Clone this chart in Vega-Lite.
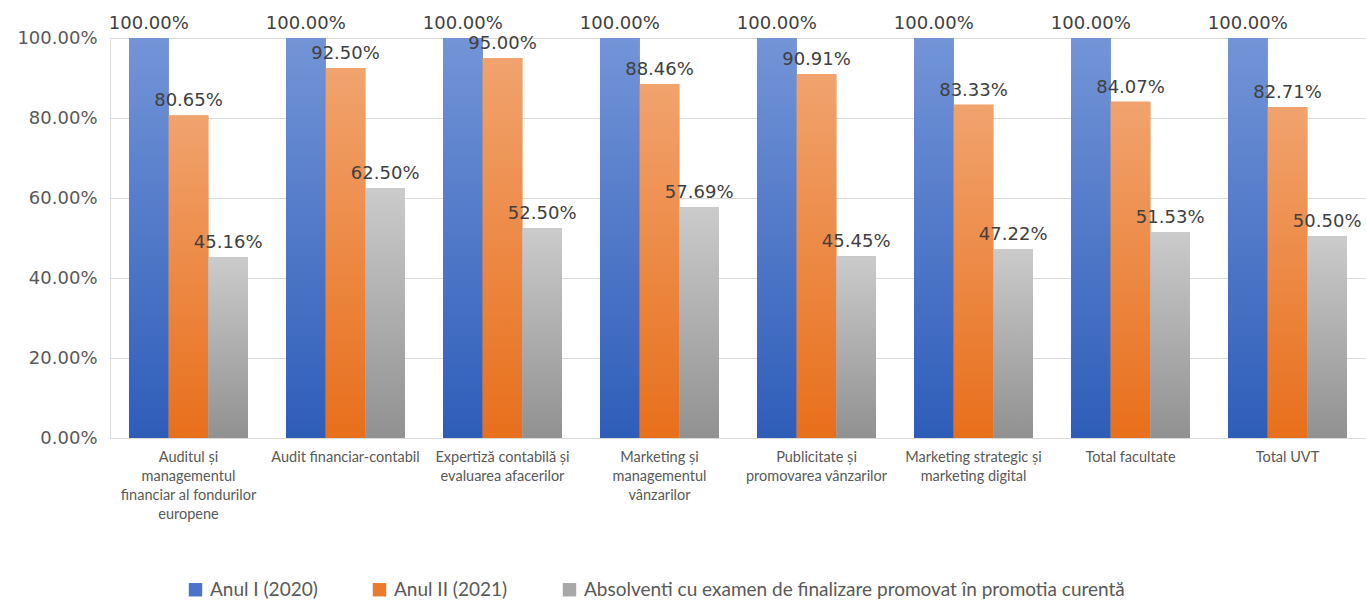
{
  "$schema": "https://vega.github.io/schema/vega-lite/v6.json",
  "width": 1256,
  "height": 400,
  "autosize": {"type": "none"},
  "padding": {"left": 110, "top": 38, "right": 0, "bottom": 163},
  "background": "white",
  "data": {
    "values": [
      {"program": "Auditul și managementul financiar al fondurilor europene", "serie": "Anul I (2020)", "valoare": 1.0},
      {"program": "Auditul și managementul financiar al fondurilor europene", "serie": "Anul II (2021)", "valoare": 0.8065},
      {"program": "Auditul și managementul financiar al fondurilor europene", "serie": "Absolventi cu examen de finalizare promovat în promotia curentă", "valoare": 0.4516},
      {"program": "Audit financiar-contabil", "serie": "Anul I (2020)", "valoare": 1.0},
      {"program": "Audit financiar-contabil", "serie": "Anul II (2021)", "valoare": 0.925},
      {"program": "Audit financiar-contabil", "serie": "Absolventi cu examen de finalizare promovat în promotia curentă", "valoare": 0.625},
      {"program": "Expertiză contabilă și evaluarea afacerilor", "serie": "Anul I (2020)", "valoare": 1.0},
      {"program": "Expertiză contabilă și evaluarea afacerilor", "serie": "Anul II (2021)", "valoare": 0.95},
      {"program": "Expertiză contabilă și evaluarea afacerilor", "serie": "Absolventi cu examen de finalizare promovat în promotia curentă", "valoare": 0.525},
      {"program": "Marketing și managementul vânzarilor", "serie": "Anul I (2020)", "valoare": 1.0},
      {"program": "Marketing și managementul vânzarilor", "serie": "Anul II (2021)", "valoare": 0.8846},
      {"program": "Marketing și managementul vânzarilor", "serie": "Absolventi cu examen de finalizare promovat în promotia curentă", "valoare": 0.5769},
      {"program": "Publicitate și promovarea vânzarilor", "serie": "Anul I (2020)", "valoare": 1.0},
      {"program": "Publicitate și promovarea vânzarilor", "serie": "Anul II (2021)", "valoare": 0.9091},
      {"program": "Publicitate și promovarea vânzarilor", "serie": "Absolventi cu examen de finalizare promovat în promotia curentă", "valoare": 0.4545},
      {"program": "Marketing strategic și marketing digital", "serie": "Anul I (2020)", "valoare": 1.0},
      {"program": "Marketing strategic și marketing digital", "serie": "Anul II (2021)", "valoare": 0.8333},
      {"program": "Marketing strategic și marketing digital", "serie": "Absolventi cu examen de finalizare promovat în promotia curentă", "valoare": 0.4722},
      {"program": "Total facultate", "serie": "Anul I (2020)", "valoare": 1.0},
      {"program": "Total facultate", "serie": "Anul II (2021)", "valoare": 0.8407},
      {"program": "Total facultate", "serie": "Absolventi cu examen de finalizare promovat în promotia curentă", "valoare": 0.5153},
      {"program": "Total UVT", "serie": "Anul I (2020)", "valoare": 1.0},
      {"program": "Total UVT", "serie": "Anul II (2021)", "valoare": 0.8271},
      {"program": "Total UVT", "serie": "Absolventi cu examen de finalizare promovat în promotia curentă", "valoare": 0.505}
    ]
  },
  "encoding": {
    "x": {
      "field": "program",
      "type": "nominal",
      "sort": null,
      "scale": {"paddingInner": 0.242, "paddingOuter": 0.121},
      "axis": {
        "title": null,
        "domain": true,
        "domainColor": "#d9d9d9",
        "ticks": false,
        "labelAngle": 0,
        "labelFont": "Lato",
        "labelFontSize": 14.5,
        "labelColor": "#595959",
        "labelPadding": 12,
        "labelLineHeight": 19,
        "labelLimit": 0,
        "labelOverlap": false,
        "labelBaseline": "top",
        "labelExpr": "datum.value == 'Auditul și managementul financiar al fondurilor europene' ? ['Auditul și','managementul','financiar al fondurilor','europene'] : datum.value == 'Expertiză contabilă și evaluarea afacerilor' ? ['Expertiză contabilă și','evaluarea afacerilor'] : datum.value == 'Marketing și managementul vânzarilor' ? ['Marketing și','managementul','vânzarilor'] : datum.value == 'Publicitate și promovarea vânzarilor' ? ['Publicitate și','promovarea vânzarilor'] : datum.value == 'Marketing strategic și marketing digital' ? ['Marketing strategic și','marketing digital'] : datum.value"
      }
    },
    "xOffset": {
      "field": "serie",
      "type": "nominal",
      "sort": ["Anul I (2020)", "Anul II (2021)", "Absolventi cu examen de finalizare promovat în promotia curentă"],
      "scale": {"paddingInner": 0, "paddingOuter": 0}
    },
    "y": {
      "field": "valoare",
      "type": "quantitative",
      "scale": {"domain": [0, 1], "nice": false},
      "axis": {
        "title": null,
        "values": [0, 0.2, 0.4, 0.6, 0.8, 1.0],
        "format": ".2%",
        "domain": false,
        "ticks": false,
        "grid": true,
        "gridColor": "#d9d9d9",
        "gridWidth": 1,
        "labelFont": "DejaVu Sans",
        "labelFontSize": 18,
        "labelColor": "#595959",
        "labelPadding": 13
      }
    }
  },
  "layer": [
    {
      "mark": {"type": "bar"},
      "encoding": {
        "color": {
          "field": "serie",
          "type": "nominal",
          "scale": {
            "domain": ["Anul I (2020)", "Anul II (2021)", "Absolventi cu examen de finalizare promovat în promotia curentă"],
            "range": ["#4a74c9", "#ec7a2c", "#a8a8a8"]
          },
          "legend": {
            "title": null,
            "orient": "none",
            "direction": "horizontal",
            "legendX": 76,
            "legendY": 542,
            "symbolType": "square",
            "symbolSize": 180,
            "symbolStrokeWidth": 0,
            "labelFont": "Lato",
            "labelFontSize": 19,
            "labelColor": "#595959",
            "labelOffset": 5,
            "columnPadding": 52,
            "labelLimit": 0
          }
        }
      }
    },
    {
      "transform": [{"filter": "datum.serie == 'Anul I (2020)'"}],
      "mark": {
        "type": "bar",
        "color": {"gradient": "linear", "x1": 0, "y1": 0, "x2": 0, "y2": 1,
          "stops": [{"offset": 0, "color": "#7394d7"}, {"offset": 1, "color": "#2e5db9"}]}
      }
    },
    {
      "transform": [{"filter": "datum.serie == 'Anul II (2021)'"}],
      "mark": {
        "type": "bar",
        "color": {"gradient": "linear", "x1": 0, "y1": 0, "x2": 0, "y2": 1,
          "stops": [{"offset": 0, "color": "#f1a36e"}, {"offset": 1, "color": "#e86f1b"}]}
      }
    },
    {
      "transform": [{"filter": "datum.serie == 'Absolventi cu examen de finalizare promovat în promotia curentă'"}],
      "mark": {
        "type": "bar",
        "color": {"gradient": "linear", "x1": 0, "y1": 0, "x2": 0, "y2": 1,
          "stops": [{"offset": 0, "color": "#cbcbcb"}, {"offset": 1, "color": "#919191"}]}
      }
    },
    {
      "mark": {
        "type": "text",
        "baseline": "alphabetic",
        "dy": -9,
        "font": "DejaVu Sans",
        "fontSize": 18,
        "color": "#404040"
      },
      "encoding": {
        "text": {"field": "valoare", "type": "quantitative", "format": ".2%"}
      }
    }
  ]
}
